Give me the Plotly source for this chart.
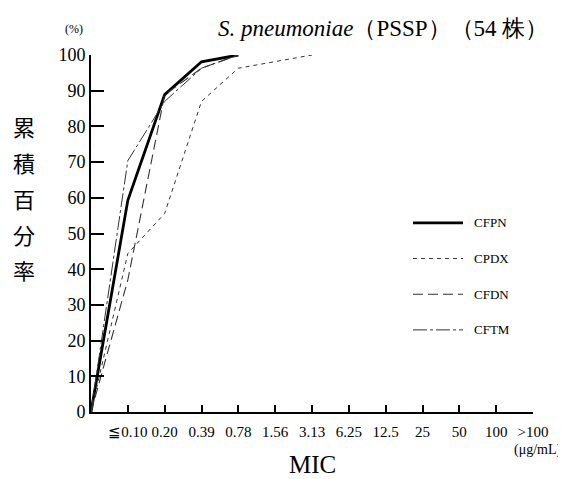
import plotly.graph_objects as go

mic_labels = ["", "≦0.10", "0.20", "0.39", "0.78", "1.56", "3.13", "6.25", "12.5", "25", "50", "100", ">100"]
cfpn = [0, 59.3, 88.9, 98.1, 100]
cpdx = [0, 44.4, 55.6, 87.0, 96.3, 98.1, 100]
cfdn = [0, 37.0, 88.9, 96.3, 100]
cftm = [0, 70.4, 87.0, 96.3, 100]
y_ticks = [0, 10, 20, 30, 40, 50, 60, 70, 80, 90, 100]
y_title_chars = ["累", "積", "百", "分", "率"]
series_names = ["CFPN", "CPDX", "CFDN", "CFTM"]
series_values = [cfpn, cpdx, cfdn, cftm]

SERIF = "Liberation Serif"
styles = [
    dict(color="black", width=2.8, dash="solid"),
    dict(color="#333", width=1, dash="4px,4px"),
    dict(color="#333", width=1.1, dash="10px,5px"),
    dict(color="#333", width=1, dash="14px,3px,3px,3px"),
]

# page geometry (body has an 8px margin)
W, H = 566, 479
L, T, R, B = 83, 47, 41, 75
X0, Y0 = 8 + L, 8 + T
PW, PH = W - L - R, H - T - B


def px(x):
    return (x - X0) / PW


def py(y):
    return (Y0 + PH - y) / PH


fig = go.Figure()
for name, vals, line in zip(series_names, series_values, styles):
    fig.add_trace(go.Scatter(
        x=list(range(len(vals))), y=vals, mode="lines", name=name,
        line=line, showlegend=False,
    ))

fig.update_layout(
    width=W, height=H,
    margin=dict(l=L, r=R, t=T, b=B),
    paper_bgcolor="white", plot_bgcolor="white",
    font=dict(family=SERIF, color="black"),
    showlegend=False,
    xaxis=dict(range=[0, 12], tickmode="array", tickvals=list(range(1, len(mic_labels))),
               ticktext=mic_labels[1:], ticks="inside", ticklen=7, tickwidth=1.6,
               tickcolor="black", ticklabelstandoff=5,
               showline=True, linewidth=1.6, linecolor="black", showgrid=False,
               zeroline=False, tickfont=dict(size=15, family=SERIF)),
    yaxis=dict(range=[0, 100], tickmode="array", tickvals=y_ticks,
               ticks="inside", ticklen=13, tickwidth=1.6, tickcolor="black",
               showline=True, linewidth=1.6, linecolor="black", showgrid=False,
               zeroline=False, tickfont=dict(size=18, family=SERIF)),
)

# legend drawn by hand
for i, (name, line) in enumerate(zip(series_names, styles)):
    ly = 53 - 10 * i
    fig.add_shape(type="line", xref="paper", yref="y", x0=px(413), x1=px(463), y0=ly, y1=ly,
                  line=line)
    fig.add_annotation(xref="paper", yref="y", x=px(472), y=ly, xanchor="left", yanchor="middle",
                       text=name, showarrow=False, font=dict(size=13, family=SERIF))

fig.add_annotation(xref="paper", yref="paper", x=px(74), y=py(29), xanchor="center", yanchor="middle",
                   text="(%)", showarrow=False, font=dict(size=12, family=SERIF))
fig.add_annotation(xref="paper", yref="paper", x=px(550), y=py(28), xanchor="right", yanchor="middle",
                   text="<i>S. pneumoniae</i>（PSSP）（54 株）", showarrow=False,
                   font=dict(size=23, family=SERIF))
fig.add_annotation(xref="paper", yref="paper", x=0.5, y=py(464), xanchor="center", yanchor="middle",
                   text="MIC", showarrow=False, font=dict(size=25, family=SERIF))
fig.add_annotation(xref="paper", yref="paper", x=px(563), y=py(450), xanchor="right", yanchor="middle",
                   text="(μg/mL)", showarrow=False, font=dict(size=14, family=SERIF))
for i, ch in enumerate(y_title_chars):
    fig.add_annotation(xref="paper", yref="y", x=px(24), y=y_ticks[8 - i],
                       xanchor="center", yanchor="middle", text=ch, showarrow=False,
                       font=dict(size=22, family="Noto Sans CJK JP"))

fig.write_html("out.html")
